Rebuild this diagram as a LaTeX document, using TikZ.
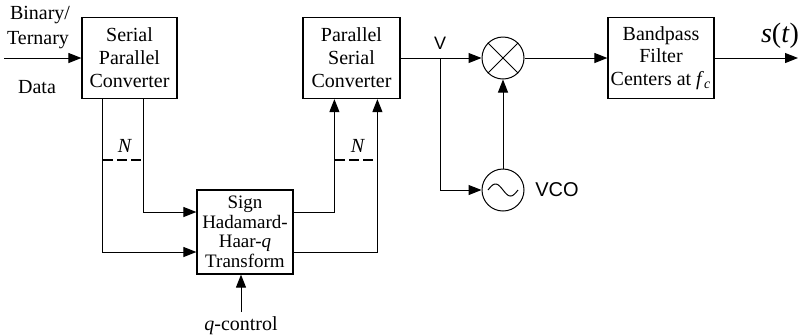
\documentclass[tikz,border=0pt]{standalone}
\usepackage{fontspec}
\setmainfont{Liberation Serif}
\newfontfamily\arialfont{Liberation Sans}
\usetikzlibrary{arrows.meta}

\begin{document}
\begin{tikzpicture}[x=0.5pt,y=-0.5pt,
        bloque/.style={draw, line width=0.6pt, minimum width=47.5pt, minimum height=40.5pt,
            align=center, inner sep=1pt, font=\fontsize{10}{11.5}\selectfont},
        flecha/.style={-{Triangle[length=6.5pt,width=5pt]}, line width=0.5pt},
        circulo/.style={draw, circle, minimum size=21pt, inner sep=0pt, line width=0.5pt},
        bus/.style={line width=1pt, dash pattern=on 5pt off 2pt}]
            \useasboundingbox (0,0) rectangle (799,334);

            % Bloques
            \node[bloque] (spc) at (129.5,58) {Serial\\Parallel\\Converter};
            \node[bloque, minimum width=48.5pt] (psc) at (351.5,58) {Parallel\\Serial\\Converter};
            \node[bloque, minimum width=48pt, minimum height=42pt,
                font=\fontsize{9.5}{9.75}\selectfont] (hhq) at (245,232) {Sign\\Hadamard-\\Haar-\textit{q}\\Transform};
            \node[bloque, minimum width=53pt, font=\fontsize{10}{11.25}\selectfont] (bpf) at (661,58) {Bandpass\\Filter\\Centers at \textit{f}\textsubscript{\textit{c}}};

            % Mezclador y VCO
            \node[circulo] (mix) at (503,58) {};
            \draw[line width=0.5pt] (mix.north west) -- (mix.south east) (mix.north east) -- (mix.south west);
            \node[circulo] (vco) at (503,190) {};
            \draw[line width=0.5pt, domain=-1:1, samples=40, variable=\t] plot ({503+15*\t},{190+6*sin(180*\t)});
            \node[font=\arialfont\fontsize{10}{12}\selectfont] (vcolab) at (557,190) {VCO};

            % Entrada
            \coordinate (in) at (4,58);
            \draw[flecha] (in) -- (spc.west);
            \node (lb1) at (40,15) {Binary/};
            \node (lb2) at (38,40) {Ternary};
            \node (lb3) at (37,87) {Data};

            % Salidas en paralelo
            \draw[flecha] ([xshift=31pt]spc.south west) |- ([yshift=10pt]hhq.west);
            \draw[flecha] ([xshift=10.5pt]spc.south west) |- ([yshift=-10pt]hhq.west);
            \draw[bus] (103,160) -- (144,160);
            \node (n1) at (125,146) {\textit{N}};

            \draw[flecha] ([yshift=10pt]hhq.east) -| ([xshift=16pt]psc.south west);
            \draw[flecha] ([yshift=-10pt]hhq.east) -| ([xshift=37.5pt]psc.south west);
            \draw[bus] (335,160) -- (378,160);
            \node (n2) at (358,146) {\textit{N}};

            % Control q
            \coordinate (qc) at (241,312);
            \draw[flecha] (qc) -- (qc |- hhq.south);
            \node (qlab) at (241,326) {\textit{q}-control};

            % Modulacion
            \coordinate (v) at (440,58);
            \node[font=\arialfont\fontsize{9}{10}\selectfont] (vlab) at (440,43) {V};
            \draw[flecha] (psc.east) -- (mix.west);
            \draw[flecha] (v) |- (vco.west);
            \draw[flecha] (vco.north) -- (mix.south);
            \draw[flecha] (mix.east) -- (bpf.west);
            \coordinate (out) at (798,58);
            \draw[flecha] (bpf.east) -- (out);
            \node[font=\fontsize{14}{16}\selectfont] (st) at (780,36) {\textit{s}(\textit{t})};
        \end{tikzpicture}
\end{document}
